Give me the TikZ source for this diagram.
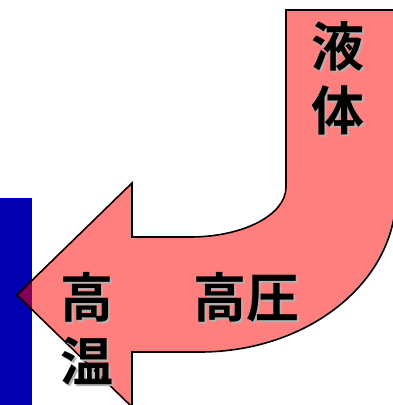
\documentclass[tikz,border=0pt]{standalone}
\usepackage{fontspec}
\newfontfamily\jpfont{Noto Sans CJK JP}[BoldFont={Noto Sans CJK JP Bold}]
\definecolor{wallblue}{RGB}{0,0,178}
\tikzset{
  lbl/.style={font=\jpfont\bfseries\fontsize{53}{64}\selectfont,align=center,inner sep=0pt},
  shd/.style={lbl,text=black!30}
}

\begin{document}
\begin{tikzpicture}[x=1pt,y=-1pt]
            \useasboundingbox (0,0) rectangle (393,405);
            \clip (0,0) rectangle (393,405);
            \fill[wallblue] (0,198) rectangle (32,405);
            \draw[line width=1.6pt,fill=red,fill opacity=0.5] (286,10) -- (396,10) -- (396,195)
                .. controls (396,282) and (308,352) .. (200,352) -- (132,352) -- (132,407)
                -- (17,295) -- (132,183) -- (132,237) -- (190,237)
                .. controls (243,237) and (286,215) .. (286,187) -- cycle;
            \node (liqs) at (340,80) [shd] {液\\体};
            \node (liq) at (338,78) [lbl] {液\\体};
            \node (hots) at (89,331) [shd] {高\\温};
            \node (hot) at (87,329) [lbl] {高\\温};
            \node (pres) at (248,299) [shd] {高圧};
            \node (pre) at (246,297) [lbl] {高圧};
        \end{tikzpicture}
\end{document}
